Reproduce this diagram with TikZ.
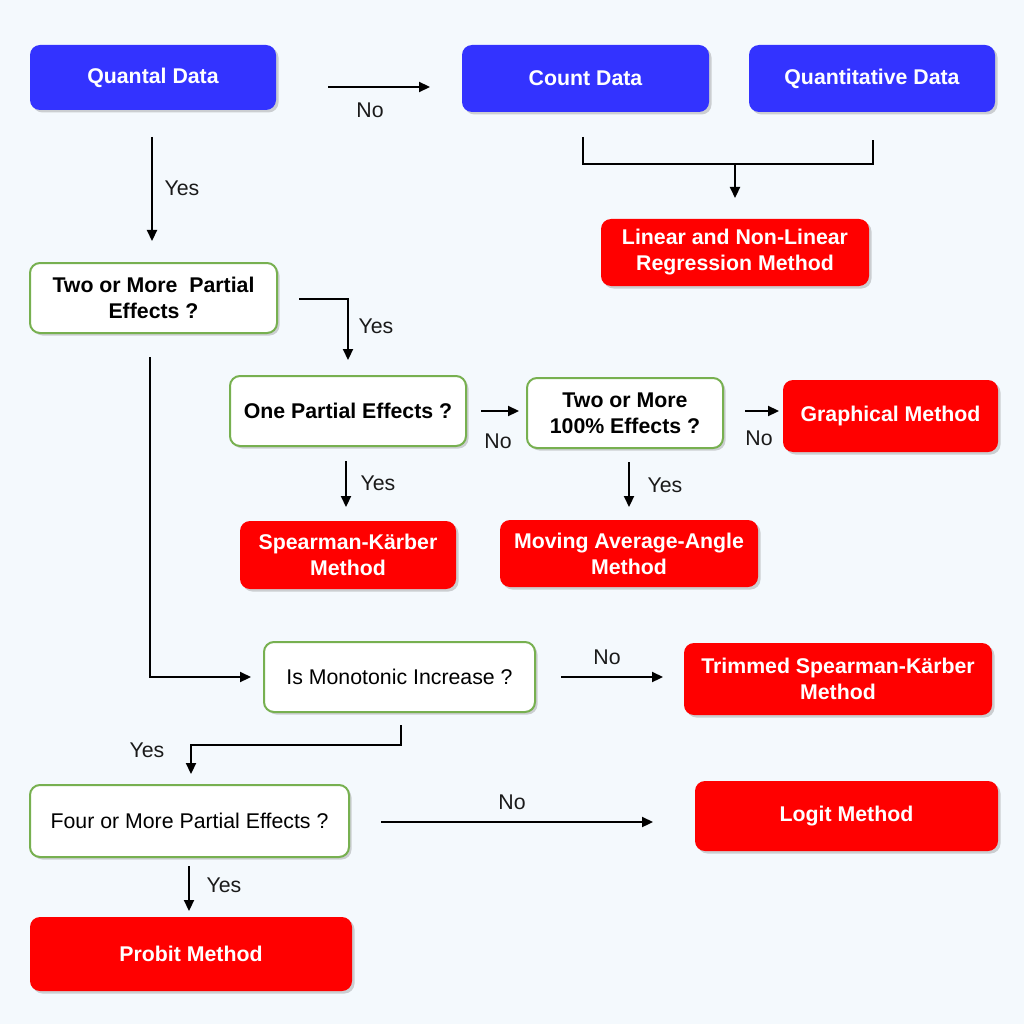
\documentclass[tikz,border=0pt]{standalone}
\usepackage{fontspec}
\setmainfont{Liberation Sans}
\usetikzlibrary{shadows,arrows.meta}
\definecolor{bgc}{HTML}{F4F9FD}
\definecolor{bluec}{HTML}{3333FF}
\definecolor{redc}{HTML}{FF0000}
\definecolor{greenc}{HTML}{77B050}
\definecolor{labc}{HTML}{1A1A1A}
\begin{document}
\begin{tikzpicture}[x=1pt,y=-1pt,
  basebox/.style={rounded corners=10pt, align=center, inner sep=0pt,
    drop shadow={opacity=0.35,shadow xshift=2.5pt,shadow yshift=-2.5pt}},
  bluebox/.style={basebox, fill=bluec, text=white, font=\bfseries\fontsize{21.3}{26}\selectfont},
  redbox/.style={basebox, fill=redc, text=white, font=\bfseries\fontsize{21.3}{26}\selectfont},
  qbox/.style={basebox, fill=white, draw=greenc, line width=2pt, text=black, font=\bfseries\fontsize{21.3}{26}\selectfont},
  qboxr/.style={qbox, font=\fontsize{21.3}{26}\selectfont},
  arr/.style={line width=2.2pt, -{Triangle[length=11pt,width=10pt]}},
  ln/.style={line width=2.2pt},
  lab/.style={text=labc, font=\fontsize{21.3}{26}\selectfont, inner sep=0pt}
]
\fill[bgc] (0,0) rectangle (1024,1024);
\useasboundingbox (0,0) rectangle (1024,1024);

% boxes
\node[bluebox, minimum width=246pt, minimum height=65pt] (qd) at (153,77.5) {Quantal Data};
\node[bluebox, minimum width=247pt, minimum height=67pt] (cd) at (585.5,78.5) {Count Data};
\node[bluebox, minimum width=246pt, minimum height=67pt] (qt) at (872,78.5) {Quantitative Data};
\node[redbox, minimum width=268pt, minimum height=67pt] (lin) at (735,252.5) {Linear and Non-Linear\\Regression Method};
\node[qbox, minimum width=247pt, minimum height=70pt] (two) at (153.5,298) {Two or More\ \ Partial\\Effects ?};
\node[qbox, minimum width=236pt, minimum height=70pt] (one) at (348,411) {One Partial Effects ?};
\node[qbox, minimum width=196pt, minimum height=70pt] (hund) at (625,413) {Two or More\\100\% Effects ?};
\node[redbox, minimum width=215pt, minimum height=72pt] (graph) at (890.5,416) {Graphical Method};
\node[redbox, minimum width=216pt, minimum height=68pt] (spk) at (348,555) {Spearman-K\"arber\\Method};
\node[redbox, minimum width=258pt, minimum height=67pt] (mov) at (629,553.5) {Moving Average-Angle\\Method};
\node[qboxr, minimum width=271pt, minimum height=70pt] (mono) at (399.5,677) {Is Monotonic Increase ?};
\node[redbox, minimum width=308pt, minimum height=72pt] (trim) at (838,679) {Trimmed Spearman-K\"arber\\Method};
\node[qboxr, minimum width=319pt, minimum height=72pt] (four) at (189.5,821) {Four or More Partial Effects ?};
\node[redbox, minimum width=303pt, minimum height=70pt] (logit) at (846.5,816) {Logit Method};
\node[redbox, minimum width=322pt, minimum height=74pt] (probit) at (191,954) {Probit Method};

% connector coordinates
\coordinate (c1a) at (328,87);  \coordinate (c1b) at (430,87);
\coordinate (c2a) at (152,137); \coordinate (c2b) at (152,241);
\coordinate (c3a) at (583,137); \coordinate (c3m) at (583,164);
\coordinate (c3n) at (873,164); \coordinate (c3b) at (873,140);
\coordinate (c3c) at (735,164); \coordinate (c3d) at (735,198);
\coordinate (c4a) at (299,299); \coordinate (c4m) at (348,299); \coordinate (c4b) at (348,360);
\coordinate (c5a) at (150,357); \coordinate (c5m) at (150,677); \coordinate (c5b) at (251,677);
\coordinate (c6a) at (481,411); \coordinate (c6b) at (519,411);
\coordinate (c7a) at (745,411); \coordinate (c7b) at (779,411);
\coordinate (c8a) at (346,461); \coordinate (c8b) at (346,507);
\coordinate (c9a) at (629,462); \coordinate (c9b) at (629,507);
\coordinate (c10a) at (561,677); \coordinate (c10b) at (663,677);
\coordinate (c11a) at (401,725); \coordinate (c11m) at (401,745);
\coordinate (c11n) at (191,745); \coordinate (c11b) at (191,774);
\coordinate (c12a) at (381,822); \coordinate (c12b) at (653,822);
\coordinate (c13a) at (189,866); \coordinate (c13b) at (189,911);

\draw[arr] (c1a) -- (c1b);
\draw[arr] (c2a) -- (c2b);
\draw[ln] (c3a) -- (c3m) -- (c3n) -- (c3b);
\draw[arr] (c3c) -- (c3d);
\draw[arr] (c4a) -- (c4m) -- (c4b);
\draw[arr] (c5a) -- (c5m) -- (c5b);
\draw[arr] (c6a) -- (c6b);
\draw[arr] (c7a) -- (c7b);
\draw[arr] (c8a) -- (c8b);
\draw[arr] (c9a) -- (c9b);
\draw[arr] (c10a) -- (c10b);
\draw[arr] (c11a) -- (c11m) -- (c11n) -- (c11b);
\draw[arr] (c12a) -- (c12b);
\draw[arr] (c13a) -- (c13b);

% labels
\node[lab] (l1) at (370,110) {No};
\node[lab] (l2) at (182,188) {Yes};
\node[lab] (l4) at (376,326) {Yes};
\node[lab] (l6) at (498,441) {No};
\node[lab] (l7) at (759,438) {No};
\node[lab] (l8) at (378,483) {Yes};
\node[lab] (l9) at (665,485) {Yes};
\node[lab] (l10) at (607,657) {No};
\node[lab] (l11) at (147,750) {Yes};
\node[lab] (l12) at (512,802) {No};
\node[lab] (l13) at (224,885) {Yes};
\end{tikzpicture}
\end{document}
